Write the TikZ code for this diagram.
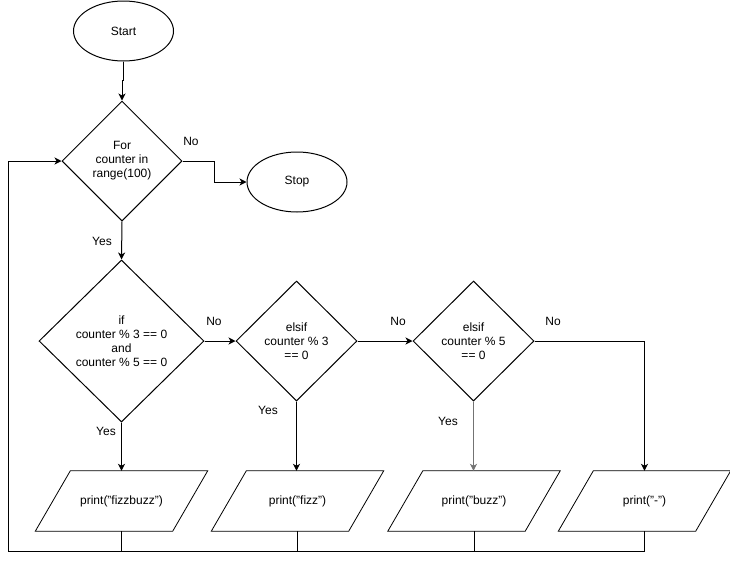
\documentclass[tikz,border=0pt]{standalone}
\usepackage{fontspec}
\setmainfont{Liberation Sans}
\usetikzlibrary{shapes.geometric,arrows.meta,calc}
\newcommand{\drawpara}[1]{%
  \draw[line width=0.8pt] ($(#1.south west)+(-17.5,0)$) -- ($(#1.south east)+(-17.5,0)$)
     -- ($(#1.north east)+(17.5,0)$) -- ($(#1.north west)+(17.5,0)$) -- cycle;}
\begin{document}
\begin{tikzpicture}[x=1pt,y=-1pt,
  every node/.style={font=\fontsize{12pt}{14pt}\selectfont, inner sep=0pt},
  term/.style={draw, ellipse, line width=1pt, minimum width=100pt, minimum height=60pt},
  dec/.style={draw, diamond, line width=1pt, align=center},
  io/.style={rectangle, minimum width=137pt, minimum height=60pt},
  lbl/.style={},
  conn/.style={line width=1pt},
  arr/.style={conn, -{Stealth[length=7pt,width=7pt,inset=2pt]}}]
\useasboundingbox (0,0) rectangle (730,560);
\node[term] (start) at (123.5,31) {Start};
\node[term] (stop) at (297,182) {Stop};
\node[dec, minimum width=120pt, minimum height=120pt] (for) at (122,161) {For\\counter in\\range(100)};
\node[dec, minimum width=165pt, minimum height=162pt] (if) at (121.5,341) {if\\counter \% 3 == 0\\and\\counter \% 5 == 0};
\node[dec, minimum width=121pt, minimum height=120pt] (e3) at (296.5,341) {elsif\\counter \% 3\\== 0};
\node[dec, minimum width=121pt, minimum height=120pt] (e5) at (473.5,341) {elsif\\counter \% 5\\== 0};
\node[io] (fb) at (121.5,501) {print("fizzbuzz")};
\node[io] (fz) at (297.5,501) {print("fizz")};
\node[io] (bz) at (474,501) {print("buzz")};
\node[io] (ds) at (644.5,501) {print("-")};
\drawpara{fb}\drawpara{fz}\drawpara{bz}\drawpara{ds}
\coordinate (lb) at (8,551);
% connectors
\draw[arr] (start.south) -- ++(0,19) -| (for.north);
\draw[arr] (for.east) -- ++(32,0) |- (stop.west);
\node[lbl] (no1) at (191,141) {No};
\draw[arr] (for.south) -- (if.north);
\node[lbl] (yes1) at (102,241) {Yes};
\draw[arr] (if.east) -- (e3.west);
\node[lbl] (no2) at (214,321) {No};
\draw[arr] (e3.east) -- (e5.west);
\node[lbl] (no3) at (398,321) {No};
\draw[arr] (e5.east) -| (ds.north);
\node[lbl] (no4) at (553,321) {No};
\draw[arr] (if.south) -- (if.south |- fb.north);
\node[lbl] (yes2) at (106,431) {Yes};
\draw[arr] (e3.south) -- (e3.south |- fz.north);
\node[lbl] (yes3) at (268,410) {Yes};
\draw[arr, draw=black!55] (e5.south) -- (e5.south |- bz.north);
\node[lbl] (yes4) at (448,421) {Yes};
% loop back
\draw[conn] (fb.south) -- (fb.south |- lb);
\draw[conn] (fz.south) -- (fz.south |- lb);
\draw[conn] (bz.south) -- (bz.south |- lb);
\draw[arr] (ds.south) -- (ds.south |- lb) -- (lb) |- (for.west);
\end{tikzpicture}
\end{document}
